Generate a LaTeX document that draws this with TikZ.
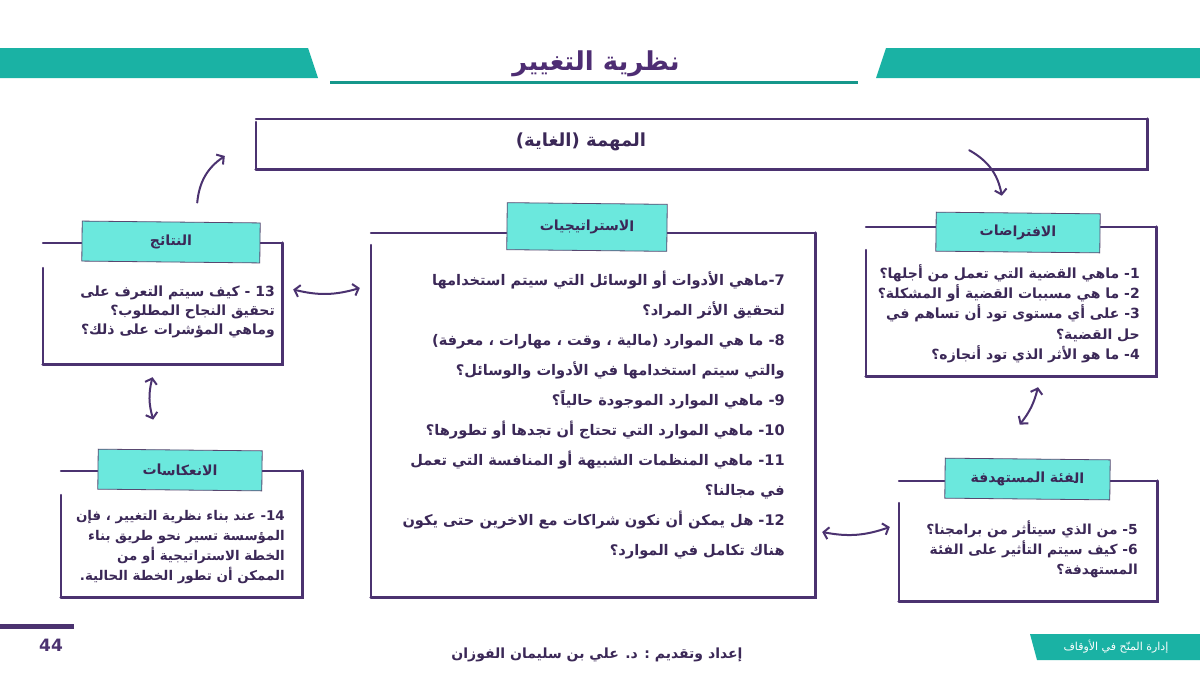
\documentclass[tikz,border=0pt]{standalone}
\usepackage{fontspec}
\usepackage{xcolor}
\usepackage{tikz}
\usetikzlibrary{positioning, calc, arrows.meta}
\TeXXeTstate=1
\newfontfamily\arabicfont[Script=Arabic, BoldFont={DejaVu Sans Bold}]{DejaVu Sans}
\newfontfamily\latinfont[BoldFont={DejaVu Sans Bold}]{DejaVu Sans}
\definecolor{framepurple}{HTML}{4B3270}
\definecolor{inkpurple}{HTML}{3B2857}
\definecolor{titlepurple}{HTML}{4E2D73}
\definecolor{bannerteal}{HTML}{1AB2A4}
\definecolor{tagcyan}{HTML}{6BE8DD}
\newcommand{\artext}[1]{{\arabicfont\beginR#1\endR}}
\newcommand{\qn}[1]{{\latinfont #1}}
% open top-left corner, heavier right and bottom edges
\newcommand{\roughframe}[2]{%
  \draw[framepen] (#1.north west) -- (#1.north east);
  \draw[heavypen] (#1.north east) -- (#1.south east) -- (#1.south west);
  \draw[framepen] (#1.south west) -- ($(#1.north west)+(0,#2)$);
}

\begin{document}
\begin{tikzpicture}[
  x=1pt, y=-1pt,
  >={Straight Barb[length=5pt,width=12pt]},
  frame/.style={rectangle, draw=none, inner sep=0pt},
  framepen/.style={draw=framepurple, line width=2pt, line cap=round},
  heavypen/.style={draw=framepurple, line width=3pt, line cap=round},
  tagbox/.style={rectangle, draw=inkpurple!85, line width=0.8pt, fill=tagcyan,
                 inner sep=0pt, rotate=-0.6, text=inkpurple,
                 font=\arabicfont\bfseries\fontsize{14}{16}\selectfont},
  bodytext/.style={align=right, anchor=north east, inner sep=0pt, text=inkpurple,
                   font=\arabicfont\bfseries\fontsize{14}{#1}\selectfont},
  sketcharrow/.style={draw=framepurple, line width=2pt, line cap=round},
  banner/.style={fill=bannerteal, draw=none}
]
\useasboundingbox (0,0) rectangle (1200,675);
\fill[white] (0,0) rectangle (1200,675);

% --- header ---
\fill[banner] (0,48) -- (308,48) -- (318,78) -- (0,78) -- cycle;
\fill[banner] (886,48) -- (1200,48) -- (1200,78) -- (876,78) -- cycle;
\node[text=titlepurple, font=\arabicfont\bfseries\fontsize{26}{30}\selectfont]
  (title) at (596,64) {\artext{نظرية التغيير}};
\coordinate (rule-l) at (330,82);
\coordinate (rule-r) at (858,82);
\draw[bannerteal!85!black, line width=3pt] (rule-l) -- (rule-r);

% --- mission ---
\node[frame, minimum width=891, minimum height=50] (mission) at (701.5,144) {};
\roughframe{mission}{3}
\node[text=inkpurple, font=\arabicfont\bfseries\fontsize{18}{21}\selectfont]
  (mission-text) at (581,142) {\artext{المهمة (الغاية)}};

% --- assumptions ---
\node[frame, minimum width=290, minimum height=149] (assum) at (1011,301.5) {};
\roughframe{assum}{23}
\node[tagbox, minimum width=164, minimum height=39] (assum-tag) at (1018,232.5)
  {\artext{الافتراضات}};
\node[bodytext=20.3] (assum-text) at (1140,264) {%
  \artext{\qn{1}- ماهي القضية التي تعمل من أجلها؟}\\
  \artext{\qn{2}- ما هي مسببات القضية أو المشكلة؟}\\
  \artext{\qn{3}- على أي مستوى تود أن تساهم في}\\
  \artext{حل القضية؟}\\
  \artext{\qn{4}- ما هو الأثر الذي تود أنجازه؟}};

% --- strategies ---
\node[frame, minimum width=444, minimum height=364] (strat) at (593,415) {};
\roughframe{strat}{12}
\node[tagbox, minimum width=160, minimum height=47] (strat-tag) at (587,227)
  {\artext{الاستراتيجيات}};
\node[bodytext=30, font=\arabicfont\bfseries\fontsize{14.6}{30}\selectfont]
  (strat-text) at (785,271) {%
  \artext{\qn{7}-ماهي الأدوات أو الوسائل التي سيتم استخدامها}\\
  \artext{لتحقيق الأثر المراد؟}\\
  \artext{\qn{8}- ما هي الموارد (مالية ، وقت ، مهارات ، معرفة)}\\
  \artext{والتي سيتم استخدامها في الأدوات والوسائل؟}\\
  \artext{\qn{9}- ماهي الموارد الموجودة حالياً؟}\\
  \artext{\qn{10}- ماهي الموارد التي تحتاج أن تجدها أو تطورها؟}\\
  \artext{\qn{11}- ماهي المنظمات الشبيهة أو المنافسة التي تعمل}\\
  \artext{في مجالنا؟}\\
  \artext{\qn{12}-  هل يمكن أن نكون شراكات مع الاخرين حتى يكون}\\
  \artext{هناك تكامل  في الموارد؟}};

% --- results ---
\node[frame, minimum width=239, minimum height=121] (results) at (162.5,303.5) {};
\roughframe{results}{25}
\node[tagbox, minimum width=178, minimum height=40] (results-tag) at (171,242)
  {\artext{النتائج}};
\node[bodytext=19] (results-text) at (275,286) {%
  \artext{\qn{13} - كيف سيتم التعرف على}\\
  \artext{تحقيق النجاح المطلوب؟}\\
  \artext{وماهي المؤشرات على ذلك؟}};

% --- reflections ---
\node[frame, minimum width=241, minimum height=126] (reflect) at (181.5,534) {};
\roughframe{reflect}{24}
\node[tagbox, minimum width=164, minimum height=40] (reflect-tag) at (180,470)
  {\artext{الانعكاسات}};
\node[bodytext=20, font=\arabicfont\bfseries\fontsize{13.4}{20}\selectfont]
  (reflect-text) at (285,510) {%
  \artext{\qn{14}- عند بناء نظرية التغيير ، فإن}\\
  \artext{المؤسسة تسير نحو طريق بناء}\\
  \artext{الخطة الاستراتيجية أو من}\\
  \artext{الممكن أن تطور الخطة الحالية.}};

% --- target group ---
\node[frame, minimum width=258, minimum height=120] (target) at (1028,541) {};
\roughframe{target}{22}
\node[tagbox, minimum width=165, minimum height=40] (target-tag) at (1027.5,479)
  {\artext{الفئة المستهدفة}};
\node[bodytext=20, font=\arabicfont\bfseries\fontsize{13.8}{20}\selectfont]
  (target-text) at (1138,521) {%
  \artext{\qn{5}- من الذي سيتأثر من برامجنا؟}\\
  \artext{\qn{6}- كيف سيتم التأثير على الفئة}\\
  \artext{المستهدفة؟}};

% --- connectors ---
\draw[sketcharrow, ->] ($(results-tag.north)+(26,-19)$)
  to[bend left=25] ($(mission.west)+(-31,12)$);
\draw[sketcharrow, ->] ($(mission.south east)+(-178,-19)$)
  to[bend left=25] ($(assum-tag.north west)+(66,-16)$);
\draw[sketcharrow, <->] ($(results.east)+(11,-14)$)
  to[bend right=15] ($(strat.west)+(-11,-127)$);
\draw[sketcharrow, <->] ($(results.south)+(-10,13)$)
  to[bend right=15] ($(reflect-tag.north)+(-27,-30)$);
\draw[sketcharrow, <->] ($(assum.south)+(27,11)$)
  to[bend left=12] ($(target-tag.north)+(-8,-34)$);
\draw[sketcharrow, <->] ($(strat.east)+(7,117)$)
  to[bend right=15] ($(target.west)+(-9,-14)$);

% --- footer ---
\coordinate (bar-l) at (0,626);
\coordinate (bar-r) at (74,626);
\draw[framepurple, line width=5pt] (bar-l) -- (bar-r);
\node[text=framepurple, font=\latinfont\bfseries\fontsize{17}{20}\selectfont]
  (page-no) at (51,645) {44};
\node[text=inkpurple, font=\arabicfont\bfseries\fontsize{14}{16}\selectfont]
  (credit) at (597,655) {\artext{إعداد وتقديم : د. علي بن سليمان الفوزان}};
\fill[banner] (1030,634) -- (1200,634) -- (1200,660) -- (1037,660) -- cycle;
\node[text=white, font=\arabicfont\fontsize{11}{13}\selectfont]
  (series) at (1116,647) {\artext{إدارة المنّح في الأوقاف}};

\end{tikzpicture}
\end{document}
